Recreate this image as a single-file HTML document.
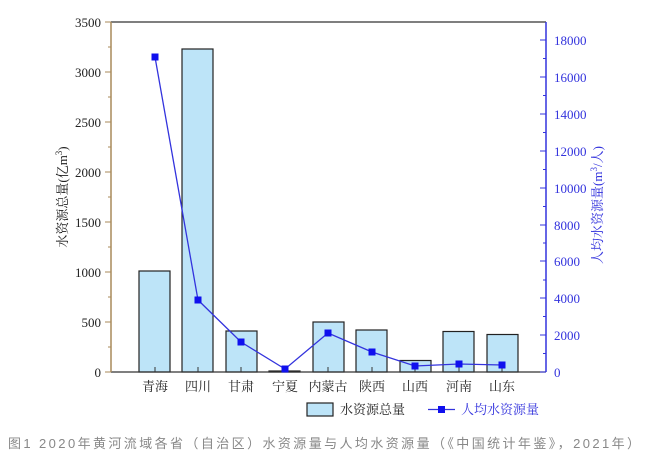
<!DOCTYPE html>
<html><head><meta charset="utf-8"><style>body{margin:0;background:#fff}svg{display:block}</style></head><body>
<svg width="648" height="466" xmlns="http://www.w3.org/2000/svg" font-family="Liberation Serif, Noto Serif CJK SC, serif">
<rect width="648" height="466" fill="#fff"/>
<line x1="111" y1="22" x2="546" y2="22" stroke="#333" stroke-width="1.3"/>
<g fill="#bde4f8" stroke="#222" stroke-width="1.2">
<rect x="139" y="271" width="31" height="101"/>
<rect x="182" y="49" width="31" height="323"/>
<rect x="226" y="331" width="31" height="41"/>
<rect x="269" y="371" width="31" height="1"/>
<rect x="313" y="322" width="31" height="50"/>
<rect x="356" y="330" width="31" height="42"/>
<rect x="400" y="360.5" width="31" height="11.5"/>
<rect x="443" y="331.5" width="31" height="40.5"/>
<rect x="487" y="334.5" width="31" height="37.5"/>
</g>
<line x1="111" y1="372" x2="546" y2="372" stroke="#333" stroke-width="1.3"/>
<g stroke="#333" stroke-width="1">
<line x1="155" y1="372" x2="155" y2="367"/><line x1="198" y1="372" x2="198" y2="367"/><line x1="241" y1="372" x2="241" y2="367"/><line x1="285" y1="372" x2="285" y2="367"/><line x1="328" y1="372" x2="328" y2="367"/><line x1="372" y1="372" x2="372" y2="367"/><line x1="415" y1="372" x2="415" y2="367"/><line x1="459" y1="372" x2="459" y2="367"/><line x1="502" y1="372" x2="502" y2="367"/>
</g>
<line x1="111" y1="22" x2="111" y2="372" stroke="#a88a5a" stroke-width="1.5"/>
<g stroke="#a88a5a" stroke-width="1">
<line x1="105" y1="22" x2="111" y2="22"/><line x1="105" y1="72" x2="111" y2="72"/><line x1="105" y1="122" x2="111" y2="122"/><line x1="105" y1="172" x2="111" y2="172"/><line x1="105" y1="222" x2="111" y2="222"/><line x1="105" y1="272" x2="111" y2="272"/><line x1="105" y1="322" x2="111" y2="322"/><line x1="105" y1="372" x2="111" y2="372"/>
<line x1="108" y1="47" x2="111" y2="47"/><line x1="108" y1="97" x2="111" y2="97"/><line x1="108" y1="147" x2="111" y2="147"/><line x1="108" y1="197" x2="111" y2="197"/><line x1="108" y1="247" x2="111" y2="247"/><line x1="108" y1="297" x2="111" y2="297"/><line x1="108" y1="347" x2="111" y2="347"/>
</g>
<g font-size="13" fill="#222" text-anchor="end">
<text x="101" y="27">3500</text><text x="101" y="77">3000</text><text x="101" y="127">2500</text><text x="101" y="177">2000</text><text x="101" y="227">1500</text><text x="101" y="277">1000</text><text x="101" y="327">500</text><text x="101" y="377">0</text>
</g>
<text transform="translate(67,197) rotate(-90)" font-size="13" fill="#222" text-anchor="middle">水资源总量(亿m<tspan font-size="9" dy="-5">3</tspan><tspan dy="5">)</tspan></text>
<line x1="546" y1="22" x2="546" y2="372" stroke="#3333dd" stroke-width="1.5"/>
<g stroke="#3333dd" stroke-width="1">
<line x1="540" y1="40" x2="546" y2="40"/><line x1="540" y1="77" x2="546" y2="77"/><line x1="540" y1="114" x2="546" y2="114"/><line x1="540" y1="151" x2="546" y2="151"/><line x1="540" y1="188" x2="546" y2="188"/><line x1="540" y1="225" x2="546" y2="225"/><line x1="540" y1="261" x2="546" y2="261"/><line x1="540" y1="298" x2="546" y2="298"/><line x1="540" y1="335" x2="546" y2="335"/><line x1="540" y1="372" x2="546" y2="372"/>
<line x1="543" y1="58.5" x2="546" y2="58.5"/><line x1="543" y1="95.5" x2="546" y2="95.5"/><line x1="543" y1="132.5" x2="546" y2="132.5"/><line x1="543" y1="169.5" x2="546" y2="169.5"/><line x1="543" y1="206.5" x2="546" y2="206.5"/><line x1="543" y1="243" x2="546" y2="243"/><line x1="543" y1="280" x2="546" y2="280"/><line x1="543" y1="316.5" x2="546" y2="316.5"/><line x1="543" y1="353.5" x2="546" y2="353.5"/>
</g>
<g font-size="13" fill="#3333dd">
<text x="554" y="45">18000</text><text x="554" y="82">16000</text><text x="554" y="119">14000</text><text x="554" y="156">12000</text><text x="554" y="193">10000</text><text x="554" y="230">8000</text><text x="554" y="266">6000</text><text x="554" y="303">4000</text><text x="554" y="340">2000</text><text x="554" y="377">0</text>
</g>
<text transform="translate(602,205) rotate(-90)" font-size="13" fill="#3333dd" text-anchor="middle">人均水资源量(m<tspan font-size="9" dy="-5">3</tspan><tspan dy="5">/人)</tspan></text>
<polyline points="155,57 198,300 241,342 285,369 328,333 372,352 415,366 459,364 502,365" fill="none" stroke="#3333dd" stroke-width="1.3"/>
<g fill="#1010ee">
<rect x="151.5" y="53.5" width="7" height="7"/><rect x="194.5" y="296.5" width="7" height="7"/><rect x="237.5" y="338.5" width="7" height="7"/><rect x="281.5" y="365.5" width="7" height="7"/><rect x="324.5" y="329.5" width="7" height="7"/><rect x="368.5" y="348.5" width="7" height="7"/><rect x="411.5" y="362.5" width="7" height="7"/><rect x="455.5" y="360.5" width="7" height="7"/><rect x="498.5" y="361.5" width="7" height="7"/>
</g>
<g font-size="13" fill="#222" text-anchor="middle">
<text x="155" y="391">青海</text><text x="198" y="391">四川</text><text x="241" y="391">甘肃</text><text x="285" y="391">宁夏</text><text x="328" y="391">内蒙古</text><text x="372" y="391">陕西</text><text x="415" y="391">山西</text><text x="459" y="391">河南</text><text x="502" y="391">山东</text>
</g>
<rect x="307" y="403" width="26" height="13" fill="#bde4f8" stroke="#222" stroke-width="1.2"/>
<text x="340" y="414" font-size="13" fill="#222">水资源总量</text>
<line x1="428" y1="409.5" x2="455" y2="409.5" stroke="#3333dd" stroke-width="1.3"/>
<rect x="438" y="406" width="7" height="7" fill="#1010ee"/>
<text x="461" y="414" font-size="13" fill="#3333dd">人均水资源量</text>
<text x="8" y="448" font-size="13" fill="#888" textLength="632" lengthAdjust="spacing" font-family="Liberation Sans, Noto Sans CJK SC, sans-serif">图1 2020年黄河流域各省（自治区）水资源量与人均水资源量（《中国统计年鉴》，2021年）</text>
</svg>
</body></html>
